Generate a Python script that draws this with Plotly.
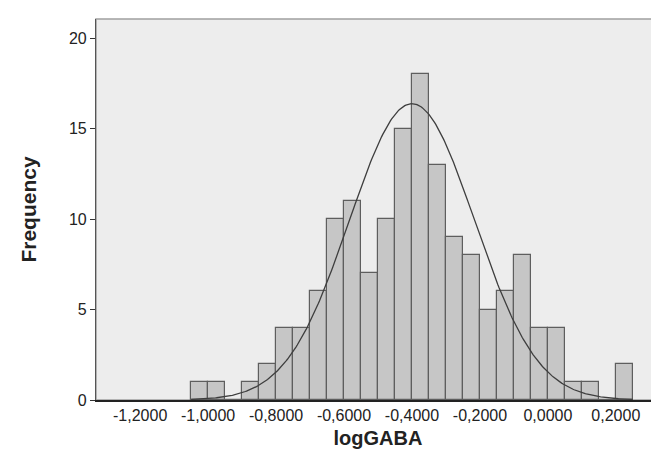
import numpy as np
import plotly.graph_objects as go

# Histogram bins (left edges) and frequencies
bin_left = [-1.05, -1.00, -0.95, -0.90, -0.85, -0.80, -0.75, -0.70, -0.65, -0.60,
            -0.55, -0.50, -0.45, -0.40, -0.35, -0.30, -0.25, -0.20, -0.15, -0.10,
            -0.05, 0.00, 0.05, 0.10, 0.15, 0.20]
freq = [1, 1, 0, 1, 2, 4, 4, 6, 10, 11,
        7, 10, 15, 18, 13, 9, 8, 5, 6, 8,
        4, 4, 1, 1, 0, 2]
bin_width = 0.05

# Fitted normal curve parameters
curve_mean = -0.40
curve_sd = 0.184
curve_range = [-1.05, 0.25]

x_tickvals = [-1.2, -1.0, -0.8, -0.6, -0.4, -0.2, 0.0, 0.2]
x_ticktext = ["-1,2000", "-1,0000", "-0,8000", "-0,6000", "-0,4000", "-0,2000", "0,0000", "0,2000"]
y_tickvals = [0, 5, 10, 15, 20]
x_range = [-1.33, 0.33]

centers = [b + bin_width / 2 for b in bin_left]
n_total = sum(freq)

xc = np.linspace(curve_range[0], curve_range[1], 400)
yc = n_total * bin_width / (curve_sd * np.sqrt(2 * np.pi)) * np.exp(-0.5 * ((xc - curve_mean) / curve_sd) ** 2)

fig = go.Figure()
fig.add_trace(go.Bar(
    x=centers, y=freq, width=bin_width,
    marker=dict(color="#c6c6c6", line=dict(color="#5e5e5e", width=1.2)),
    showlegend=False,
))
fig.add_trace(go.Scatter(
    x=xc, y=yc, mode="lines",
    line=dict(color="#3e3e3e", width=1.3),
    showlegend=False,
))

fig.add_shape(type="rect", xref="paper", yref="paper", x0=0, y0=0, x1=1, y1=1,
              line=dict(color="#a0a0a0", width=1.5), layer="below")

font_family = "Liberation Sans, Arial, sans-serif"
fig.update_layout(
    width=659, height=455,
    margin=dict(l=88, r=7, t=11, b=63),
    paper_bgcolor="white",
    plot_bgcolor="#ededed",
    bargap=0,
    font=dict(family=font_family, color="#222222"),
    xaxis=dict(
        range=x_range,
        automargin=False,
        tickvals=x_tickvals, ticktext=x_ticktext,
        ticks="",
        showline=True, linecolor="#222222", linewidth=1.5,
        showgrid=False, zeroline=False,
        tickfont=dict(size=16, color="#222222"),
        title=dict(text="<b>logGABA</b>", font=dict(size=20, color="#222222"), standoff=8),
    ),
    xaxis2=dict(
        range=x_range, overlaying="x", anchor="y", side="bottom",
        automargin=False,
        tickvals=x_tickvals, showticklabels=False,
        ticks="outside", ticklen=5, tickcolor="#333333", tickwidth=1,
        showline=False, showgrid=False, zeroline=False,
    ),
    yaxis=dict(
        range=[0, 21.05],
        automargin=False,
        tickvals=y_tickvals,
        ticks="outside", ticklen=5, tickcolor="#333333", tickwidth=1,
        showline=True, linecolor="#555555", linewidth=1.2,
        showgrid=False, zeroline=False,
        tickfont=dict(size=16, color="#222222"),
        title=dict(text="<b>Frequency</b>", font=dict(size=21, color="#222222"), standoff=26),
    ),
)

fig.write_html("out.html")
